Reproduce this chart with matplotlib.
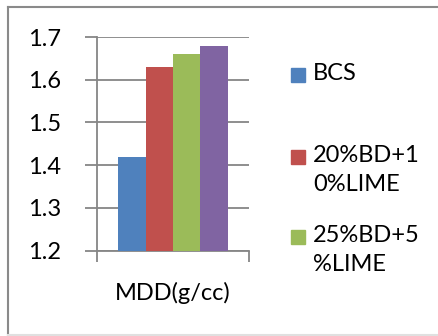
import matplotlib
matplotlib.use("Agg")
import matplotlib.pyplot as plt
from matplotlib.lines import Line2D
from matplotlib.patches import Rectangle

category = "MDD(g/cc)"
series = ["BCS", "20%BD+10%LIME", "25%BD+5%LIME", "30%BD"]
legend_text = ["BCS", "20%BD+1\n0%LIME", "25%BD+5\n%LIME"]
values = [1.42, 1.63, 1.66, 1.68]
colors = ["#4f81bd", "#c0504d", "#9bbb59", "#8064a2"]
yticks = [1.2, 1.3, 1.4, 1.5, 1.6, 1.7]

plt.rcParams["font.family"] = ["Lato", "DejaVu Sans"]
fs = 17

W, H = 438, 336
fig = plt.figure(figsize=(W / 100, H / 100), dpi=100)
ax = fig.add_axes([97 / W, 1 - 250.5 / H, 152 / W, 213.5 / H])

bw = 0.18
for i, (v, c) in enumerate(zip(values, colors)):
    ax.bar((i - 1.5) * bw, v - 1.2, bottom=1.2, width=bw, color=c, zorder=3)

ax.set_xlim(-0.5, 0.5)
ax.set_ylim(1.2, 1.7)
ax.set_yticks(yticks)
ax.set_yticklabels([f"{t:.1f}" for t in yticks], fontsize=fs)
ax.yaxis.grid(True, color="#868686", linewidth=1.3, zorder=0)
ax.set_xticks([-0.5, 0.5])
ax.set_xticklabels([])
ax.tick_params(axis="y", length=9, width=1.3, color="#868686", pad=17)
ax.tick_params(axis="x", length=8, width=1.3, color="#868686")
for s in ["top", "right"]:
    ax.spines[s].set_visible(False)
for s in ["left", "bottom"]:
    ax.spines[s].set_color("#868686")
    ax.spines[s].set_linewidth(1.3)
ax.text(0.5, -0.2, category, transform=ax.transAxes, ha="center", va="center", fontsize=fs)

# legend (last series is clipped in the original)
ys = [75, 157, 237]
for lab, c, y in zip(legend_text, colors, ys):
    fig.add_artist(Rectangle((291 / W, 1 - (y + 7) / H), 14 / W, 14 / H, color=c, transform=fig.transFigure))
    fig.text(313 / W, 1 - (y - 12) / H, lab, ha="left", va="top", fontsize=fs, linespacing=1.45)

# chart border
fig.add_artist(Line2D([8 / W, 8 / W], [0, 1 - 7 / H], color="#8a8a8a", linewidth=1.5))
fig.add_artist(Line2D([8 / W, 1], [1 - 7 / H, 1 - 7 / H], color="#8a8a8a", linewidth=1.5))
fig.add_artist(Line2D([8 / W, 1], [1.5 / H, 1.5 / H], color="#e0e0e0", linewidth=1.5))

fig.savefig("out.png", dpi=100)
